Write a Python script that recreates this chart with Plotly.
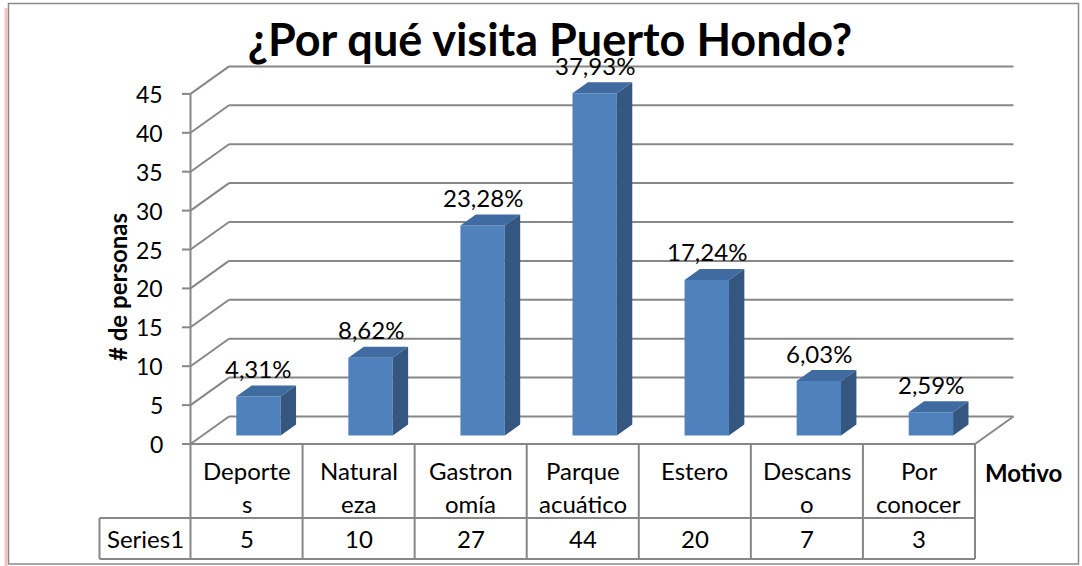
import plotly.graph_objects as go

# datos del gráfico
motivos = ["Deporte\ns", "Natural\neza", "Gastron\nomía", "Parque\nacuático", "Estero\n", "Descans\no", "Por\nconocer"]
personas = [5, 10, 27, 44, 20, 7, 3]
porcentajes = ["4,31%", "8,62%", "23,28%", "37,93%", "17,24%", "6,03%", "2,59%"]
ticks_y = [0, 5, 10, 15, 20, 25, 30, 35, 40, 45]
nombre_serie = "Series1"

# geometría de la vista en píxeles del lienzo
ANCHO, ALTO = 1082, 566
X_IZQ = 190.5          # borde izquierdo de la primera columna
COL = 112.07           # ancho de una categoría
Y_CERO = 444           # píxel del valor 0 (plano frontal)
PX_UNIDAD = 7.78       # píxeles por persona
PROF_X = 38.5 / COL    # desplazamiento hacia el fondo, en categorías
PROF_Y = 27.5 / PX_UNIDAD
Z_FRENTE, Z_FONDO = 0.31, 0.71
MEDIO = 0.198          # medio ancho de la barra

GRIS = "#878787"
AZUL = "#4F81BD"
AZUL_LADO = "#34567F"
AZUL_TAPA = "#406BA0"
FUENTE = "Lato"


def px_x(p):
    return (p - X_IZQ) / COL - 0.5


def px_y(p):
    return (Y_CERO - p) / PX_UNIDAD


n = len(personas)
x_ini, x_fin = -0.5, n - 0.5
y_tabla_medio = px_y(518)
y_tabla_fin = px_y(559)
x_serie = px_x(99.5)

fig = go.Figure()

# caras frontales
fig.add_trace(go.Bar(
    x=[i + Z_FRENTE * PROF_X for i in range(n)],
    y=personas,
    base=Z_FRENTE * PROF_Y,
    width=2 * MEDIO,
    marker=dict(color=AZUL, line=dict(width=0)),
    hoverinfo="skip",
))

# caras laterales y superiores
lado_x, lado_y, tapa_x, tapa_y = [], [], [], []
for i, v in enumerate(personas):
    xd = i + MEDIO
    xi = i - MEDIO
    lado_x += [xd + Z_FRENTE * PROF_X, xd + Z_FONDO * PROF_X, xd + Z_FONDO * PROF_X, xd + Z_FRENTE * PROF_X, None]
    lado_y += [Z_FRENTE * PROF_Y, Z_FONDO * PROF_Y, v + Z_FONDO * PROF_Y, v + Z_FRENTE * PROF_Y, None]
    tapa_x += [xi + Z_FRENTE * PROF_X, xd + Z_FRENTE * PROF_X, xd + Z_FONDO * PROF_X, xi + Z_FONDO * PROF_X, None]
    tapa_y += [v + Z_FRENTE * PROF_Y, v + Z_FRENTE * PROF_Y, v + Z_FONDO * PROF_Y, v + Z_FONDO * PROF_Y, None]

fig.add_trace(go.Scatter(x=lado_x, y=lado_y, mode="lines", fill="toself", fillcolor=AZUL_LADO,
                         line=dict(width=0), hoverinfo="skip"))
fig.add_trace(go.Scatter(x=tapa_x, y=tapa_y, mode="lines", fill="toself", fillcolor=AZUL_TAPA,
                         line=dict(width=0), hoverinfo="skip"))

shapes = []


def linea(x0, y0, x1, y1, capa="below"):
    shapes.append(dict(type="line", xref="x", yref="y", x0=x0, y0=y0, x1=x1, y1=y1,
                       line=dict(color=GRIS, width=2), layer=capa))


# paredes: lateral y fondo
for t in ticks_y:
    linea(x_ini, t, x_ini + PROF_X, t + PROF_Y)
    linea(x_ini + PROF_X, t + PROF_Y, x_fin + PROF_X, t + PROF_Y)
    linea(px_x(182), t, x_ini, t)
# piso
linea(x_fin, 0, x_fin + PROF_X, PROF_Y)
# eje vertical, que baja hasta el final de la tabla
linea(x_ini, ticks_y[-1], x_ini, y_tabla_fin, "above")

# tabla de datos
linea(x_ini, 0, x_fin, 0, "above")
linea(x_serie, y_tabla_medio, x_fin, y_tabla_medio, "above")
linea(x_serie, y_tabla_fin, x_fin, y_tabla_fin, "above")
linea(x_serie, y_tabla_medio, x_serie, y_tabla_fin, "above")
for k in range(1, n + 1):
    linea(x_ini + k, 0, x_ini + k, y_tabla_fin, "above")

# marco exterior
shapes.append(dict(type="line", xref="paper", yref="paper", x0=6 / ANCHO, x1=6 / ANCHO,
                   y0=0, y1=1 - 8 / ALTO, line=dict(color="rgba(235,120,120,0.45)", width=3)))
shapes.append(dict(type="rect", xref="paper", yref="paper", x0=8.5 / ANCHO, x1=1078.5 / ANCHO,
                   y0=1 - 564 / ALTO, y1=1 - 3.5 / ALTO, line=dict(color="#8a8a8a", width=1.5)))

annotations = []
txt = dict(family=FUENTE, size=24, color="black")
txt_eje = dict(family=FUENTE, size=23, color="black")

for t in ticks_y:
    annotations.append(dict(x=px_x(165), y=t, xref="x", yref="y", text=str(t), showarrow=False,
                            xanchor="right", yanchor="middle", font=txt_eje))

for i, (v, p) in enumerate(zip(personas, porcentajes)):
    annotations.append(dict(x=i + Z_FRENTE * PROF_X, y=v + Z_FONDO * PROF_Y, xref="x", yref="y",
                            text=p, showarrow=False, xanchor="center", yanchor="middle",
                            yshift=17, font=txt))

for i, m in enumerate(motivos):
    l1, l2 = m.split("\n")
    annotations.append(dict(x=i, y=px_y(470), xref="x", yref="y", text=l1, showarrow=False,
                            xanchor="center", yanchor="middle", font=txt))
    if l2:
        annotations.append(dict(x=i, y=px_y(503), xref="x", yref="y", text=l2, showarrow=False,
                                xanchor="center", yanchor="middle", font=txt))
    annotations.append(dict(x=i, y=px_y(538), xref="x", yref="y", text=str(personas[i]),
                            showarrow=False, xanchor="center", yanchor="middle", font=txt))

annotations.append(dict(x=(x_serie + x_ini) / 2, y=px_y(538), xref="x", yref="y", text=nombre_serie,
                        showarrow=False, xanchor="center", yanchor="middle", font=txt))
annotations.append(dict(x=px_x(117), y=px_y(287), xref="x", yref="y", text="<b># de personas</b>",
                        showarrow=False, textangle=-90, xanchor="center", yanchor="middle",
                        font=dict(family=FUENTE, size=24, color="black")))
annotations.append(dict(x=px_x(983), y=px_y(472), xref="x", yref="y", text="<b>Motivo</b>",
                        showarrow=False, xanchor="left", yanchor="middle",
                        font=dict(family=FUENTE, size=24, color="black")))

fig.update_layout(
    width=ANCHO, height=ALTO,
    margin=dict(l=0, r=0, t=0, b=0),
    paper_bgcolor="white", plot_bgcolor="white",
    showlegend=False,
    title=dict(text="<b>¿Por qué visita Puerto Hondo?</b>", x=550 / ANCHO, y=1 - 40 / ALTO,
               xanchor="center", yanchor="middle",
               font=dict(family=FUENTE, size=45, color="black")),
    xaxis=dict(visible=False, range=[px_x(0), px_x(ANCHO)], fixedrange=True),
    yaxis=dict(visible=False, range=[px_y(ALTO), px_y(0)], fixedrange=True),
    shapes=shapes,
    annotations=annotations,
)

fig.write_html("out.html", config={"displayModeBar": False},
               post_script="document.body.style.margin='0';")
